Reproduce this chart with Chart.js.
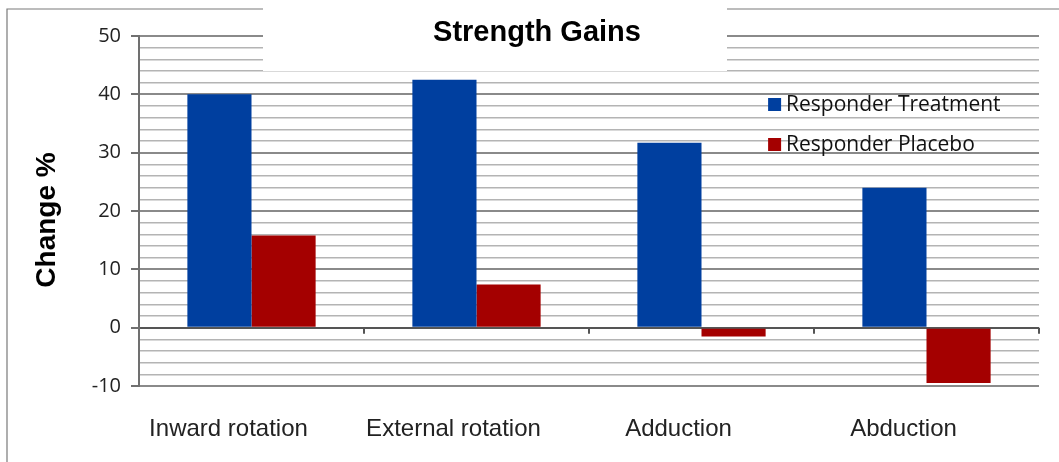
<!DOCTYPE html>
<html>
<head>
<meta charset="utf-8">
<script src="https://cdn.jsdelivr.net/npm/chart.js@4.4.0/dist/chart.umd.min.js"></script>
<style>
  html, body { margin: 0; padding: 0; background: #fff; }
  #wrap { width: 1059px; height: 462px; position: relative; }
</style>
</head>
<body>
<div id="wrap"><canvas id="strength-chart"></canvas></div>
<script>
// data
const categories = ["Inward rotation", "External rotation", "Adduction", "Abduction"];
const treatmentValues = [40, 42.5, 31.7, 24];
const placeboValues = [15.8, 7.4, -1.5, -9.5];
const seriesNames = ["Responder Treatment", "Responder Placebo"];
const chartTitle = "Strength Gains";
const yTitle = "Change %";

const blue = "#003f9f";
const red = "#a40000";

// frame, white title box, y title and legend, drawn straight on the canvas
const decorations = {
  id: "decorations",
  beforeDraw(chart) {
    const ctx = chart.ctx;
    ctx.save();
    ctx.strokeStyle = "#7a7a7a";
    ctx.lineWidth = 1.2;
    ctx.beginPath();
    ctx.moveTo(7, chart.height);
    ctx.lineTo(7, 9);
    ctx.lineTo(chart.width, 9);
    ctx.stroke();
    ctx.restore();
  },
  afterDatasetsDraw(chart) {
    // little tick marks on the zero line between categories
    const ctx = chart.ctx;
    const x = chart.scales.x;
    const y0 = chart.scales.y.getPixelForValue(0);
    ctx.save();
    ctx.strokeStyle = "#555";
    ctx.lineWidth = 2;
    for (let i = 1; i <= categories.length; i++) {
      const px = x.getPixelForValue(i - 0.5);
      ctx.beginPath();
      ctx.moveTo(px, y0);
      ctx.lineTo(px, y0 + 6);
      ctx.stroke();
    }
    ctx.restore();
  },
  afterDraw(chart) {
    const ctx = chart.ctx;
    const area = chart.chartArea;
    ctx.save();
    // white box pasted over the old title
    ctx.fillStyle = "#fff";
    ctx.fillRect(263, 0, 464, 71);
    ctx.fillStyle = "#000";
    ctx.font = "bold 29px 'Liberation Sans', Arial, sans-serif";
    ctx.textAlign = "center";
    ctx.textBaseline = "middle";
    ctx.fillText(chartTitle, 537, 33);

    // y axis title
    ctx.save();
    ctx.translate(47, 220);
    ctx.rotate(-Math.PI / 2);
    ctx.font = "bold 28px 'Liberation Sans', Arial, sans-serif";
    ctx.fillText(yTitle, 0, 0);
    ctx.restore();

    // legend inside the plot
    const lx = area.left + (area.right - area.left) * 0.699;
    const ly = area.top + 68;
    ctx.font = "21px 'Open Sans', sans-serif";
    ctx.textAlign = "left";
    chart.data.datasets.forEach((ds, i) => {
      const cy = ly + i * 40;
      ctx.fillStyle = ds.backgroundColor;
      ctx.fillRect(lx, cy - 6, 13, 13);
      ctx.fillStyle = "#111";
      ctx.fillText(ds.label, lx + 18, cy + 1);
    });
    ctx.restore();
  },
};

const ctxStrength = document.getElementById("strength-chart");

new Chart(ctxStrength, {
  type: "bar",
  data: {
    labels: categories,
    datasets: [
      {
        label: seriesNames[0],
        data: treatmentValues,
        backgroundColor: blue,
        categoryPercentage: 0.57,
        barPercentage: 1,
      },
      {
        label: seriesNames[1],
        data: placeboValues,
        backgroundColor: red,
        categoryPercentage: 0.57,
        barPercentage: 1,
      },
    ],
  },
  plugins: [decorations],
  options: {
    responsive: true,
    maintainAspectRatio: false,
    animation: false,
    layout: {
      padding: { top: 36, right: 20, bottom: 0, left: 30 },
    },
    scales: {
      x: {
        afterFit: (scale) => {
          scale.height = 76;
        },
        grid: { display: false, drawTicks: false },
        border: { display: false },
        ticks: {
          padding: 29,
          labelOffset: -23,
          color: "#222",
          font: { family: "'Liberation Sans', Arial, sans-serif", size: 24 },
          maxRotation: 0,
        },
      },
      y: {
        min: -10,
        max: 50,
        afterFit: (scale) => {
          scale.width = 109;
        },
        border: { display: true, color: "#707070", width: 2 },
        grid: {
          tickLength: 8,
          lineWidth: (c) => (c.tick && c.tick.value % 10 === 0 ? 2 : 1.5),
          color: (c) => {
            if (!c.tick) return "#b4b4b4";
            if (c.tick.value === 0) return "#555";
            return c.tick.value % 10 === 0 ? "#8a8a8a" : "#b4b4b4";
          },
          tickColor: (c) =>
            c.tick && c.tick.value % 10 === 0 ? "#707070" : "rgba(0,0,0,0)",
        },
        ticks: {
          stepSize: 2,
          autoSkip: false,
          padding: 10,
          color: "#222",
          font: { family: "'Open Sans', sans-serif", size: 20 },
          callback: (v) => (v % 10 === 0 ? v : ""),
        },
      },
    },
    plugins: {
      legend: { display: false },
      tooltip: { enabled: false },
    },
  },
});
</script>
</body>
</html>
